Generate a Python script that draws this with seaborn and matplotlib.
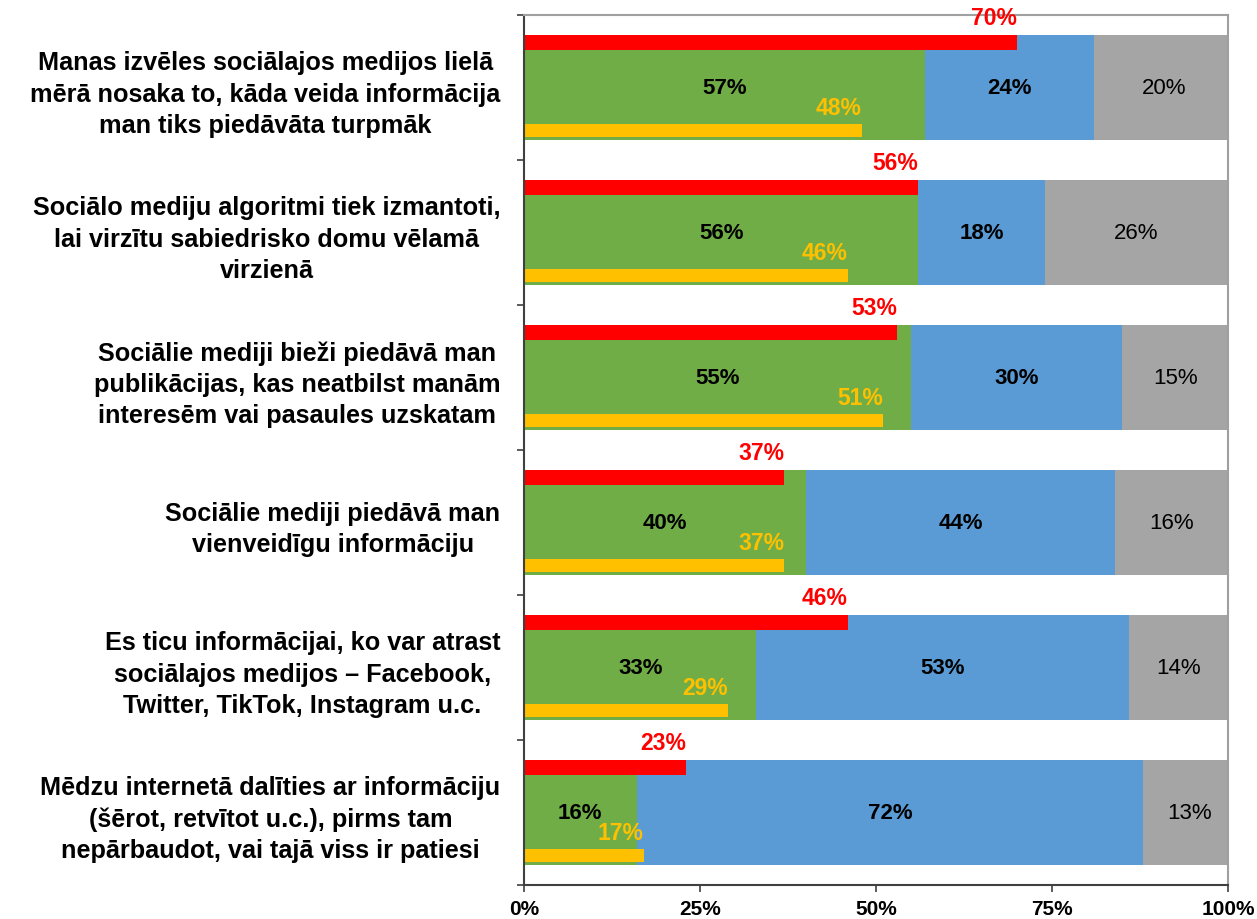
import matplotlib
matplotlib.use("Agg")
import matplotlib.pyplot as plt
import numpy as np
import seaborn as sns

statements = [
    "Manas izvēles sociālajos medijos lielā\nmērā nosaka to, kāda veida informācija\nman tiks piedāvāta turpmāk",
    "Sociālo mediju algoritmi tiek izmantoti,\nlai virzītu sabiedrisko domu vēlamā\nvirzienā",
    "Sociālie mediji bieži piedāvā man\npublikācijas, kas neatbilst manām\ninteresēm vai pasaules uzskatam",
    "Sociālie mediji piedāvā man\nvienveidīgu informāciju",
    "Es ticu informācijai, ko var atrast\nsociālajos medijos – Facebook,\nTwitter, TikTok, Instagram u.c.",
    "Mēdzu internetā dalīties ar informāciju\n(šērot, retvītot u.c.), pirms tam\nnepārbaudot, vai tajā viss ir patiesi",
]
agree = [57, 56, 55, 40, 33, 16]
disagree = [24, 18, 30, 44, 53, 72]
dont_know = [20, 26, 15, 16, 14, 13]
red_values = [70, 56, 53, 37, 46, 23]
yellow_values = [48, 46, 51, 37, 29, 17]
x_ticks = [0, 25, 50, 75, 100]

GREEN = "#70AD47"
BLUE = "#5B9BD5"
GRAY = "#A5A5A5"
RED = "#FF0000"
YELLOW = "#FFC000"
BAR_W = 0.72
THIN_H = 0.1
FS = 16

sns.set_style("white")
plt.rcParams["font.family"] = ["Liberation Sans", "DejaVu Sans"]
plt.rcParams["text.color"] = "black"
plt.rcParams["xtick.color"] = "black"
plt.rcParams["ytick.color"] = "black"

agree_a = np.array(agree)
disagree_a = np.array(disagree)
dont_a = np.array(dont_know)
cum_blue = agree_a + disagree_a
cum_gray = cum_blue + dont_a

fig = plt.figure(figsize=(12.57, 9.2), dpi=100)
ax = fig.add_axes([0.4169, 0.037, 0.56, 0.9457])

# stacked bars: draw totals back to front
for values, color in [(cum_gray, GRAY), (cum_blue, BLUE), (agree_a, GREEN)]:
    sns.barplot(x=values, y=statements, orient="h", color=color, saturation=1,
                width=BAR_W, linewidth=0, ax=ax)

pos = np.arange(len(statements))
ax.barh(pos - BAR_W / 2 + THIN_H / 2, red_values, height=THIN_H, color=RED, linewidth=0)
ax.barh(pos + BAR_W / 2 - THIN_H / 2 - 0.01, yellow_values, height=THIN_H - 0.01,
        color=YELLOW, linewidth=0)

for i in range(len(statements)):
    ax.text(agree_a[i] / 2, i, f"{agree[i]}%", ha="center", va="center",
            fontsize=FS, fontweight="bold", color="black")
    ax.text(agree_a[i] + disagree_a[i] / 2, i, f"{disagree[i]}%", ha="center",
            va="center", fontsize=FS, fontweight="bold", color="black")
    ax.text(cum_blue[i] + dont_a[i] / 2, i, f"{dont_know[i]}%", ha="center",
            va="center", fontsize=FS, color="black")
    ax.text(red_values[i], i - 0.48, f"{red_values[i]}%", ha="right", va="center",
            fontsize=FS + 0.5, fontweight="bold", color=RED)
    ax.text(yellow_values[i], i + 0.14, f"{yellow_values[i]}%", ha="right",
            va="center", fontsize=FS + 0.5, fontweight="bold", color=YELLOW)

ax.set_xlim(0, 100)
ax.set_ylim(len(statements) - 0.5, -0.5)
ax.set_xticks(x_ticks)
ax.set_xticklabels([f"{t}%" for t in x_ticks], fontsize=15, fontweight="bold",
                   color="black")
ax.set_yticks(pos)
ax.set_yticklabels(statements)
for label in ax.get_yticklabels():
    label.set_fontsize(18.2)
    label.set_fontweight("bold")
    label.set_color("black")
    label.set_multialignment("center")
    label.set_linespacing(1.38)
ax.set_yticks(np.arange(-0.5, len(statements), 1), minor=True)
ax.tick_params(axis="y", which="major", length=0, pad=17)
ax.tick_params(axis="y", which="minor", left=True, length=5, width=1.2, color="#404040")
ax.tick_params(axis="x", which="major", bottom=True, length=5, width=1.2,
               color="#404040", pad=5)
ax.set_xlabel("")
ax.set_ylabel("")

for side in ["left", "bottom"]:
    ax.spines[side].set_color("#404040")
    ax.spines[side].set_linewidth(1.5)
for side in ["top", "right"]:
    ax.spines[side].set_visible(True)
    ax.spines[side].set_color("#A0A0A0")
    ax.spines[side].set_linewidth(1.5)

fig.savefig("out.png", dpi=100)
